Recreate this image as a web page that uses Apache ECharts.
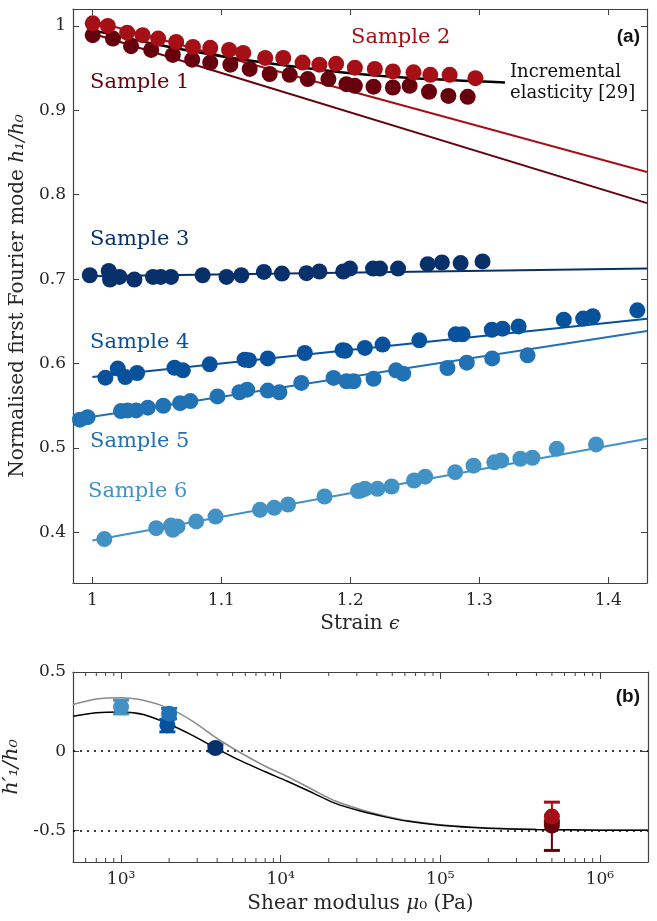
<!DOCTYPE html>
<html>
<head>
<meta charset="utf-8">
<script src="https://cdn.jsdelivr.net/npm/echarts@6/dist/echarts.min.js"></script>
<style>
html, body { margin: 0; padding: 0; background: #fff; }
#main { width: 657px; height: 921px; }
</style>
</head>
<body>
<div id="main"></div>
<script>
// ---- panel (a): strain vs normalised first Fourier mode ----
var s1x = [1.0003, 1.016, 1.030, 1.0456, 1.0624, 1.0774, 1.0914, 1.107, 1.122, 1.1375, 1.153, 1.167, 1.183, 1.197, 1.2035, 1.218, 1.233, 1.246, 1.261, 1.276, 1.291];
var s1y = [0.989, 0.985, 0.976, 0.9715, 0.9656, 0.960, 0.9565, 0.954, 0.949, 0.943, 0.942, 0.937, 0.937, 0.931, 0.929, 0.928, 0.927, 0.929, 0.922, 0.917, 0.916];
var s2x = [1.0003, 1.012, 1.027, 1.039, 1.051, 1.065, 1.078, 1.0914, 1.106, 1.117, 1.134, 1.148, 1.163, 1.176, 1.189, 1.2035, 1.219, 1.233, 1.249, 1.262, 1.277, 1.297];
var s2y = [1.003, 1.0, 0.992, 0.989, 0.985, 0.981, 0.975, 0.974, 0.9715, 0.968, 0.962, 0.962, 0.9565, 0.954, 0.955, 0.9505, 0.949, 0.946, 0.945, 0.942, 0.942, 0.938];
var s3x = [0.998, 1.0127, 1.0137, 1.021, 1.0326, 1.047, 1.053, 1.061, 1.0855, 1.104, 1.1155, 1.133, 1.147, 1.166, 1.176, 1.1945, 1.1997, 1.2176, 1.223, 1.237, 1.26, 1.271, 1.2855, 1.3025];
var s3y = [0.7046, 0.7097, 0.6995, 0.7026, 0.6995, 0.7026, 0.7026, 0.7026, 0.7046, 0.7026, 0.7046, 0.7085, 0.7066, 0.707, 0.709, 0.709, 0.7125, 0.7125, 0.7125, 0.7125, 0.7177, 0.7197, 0.719, 0.721];
var s4x = [1.0101, 1.0197, 1.0256, 1.0347, 1.0637, 1.0702, 1.091, 1.118, 1.1214, 1.136, 1.1647, 1.194, 1.196, 1.2113, 1.225, 1.2535, 1.2817, 1.287, 1.3097, 1.318, 1.3305, 1.3655, 1.3805, 1.388, 1.4225];
var s4y = [0.5833, 0.594, 0.584, 0.5888, 0.595, 0.592, 0.599, 0.6046, 0.604, 0.606, 0.6125, 0.6157, 0.615, 0.6185, 0.6224, 0.6275, 0.6346, 0.6346, 0.640, 0.6413, 0.644, 0.652, 0.6533, 0.656, 0.663];
var s5x = [0.9904, 0.9963, 1.0222, 1.0274, 1.0339, 1.043, 1.055, 1.068, 1.076, 1.097, 1.114, 1.12, 1.136, 1.145, 1.162, 1.187, 1.197, 1.2025, 1.218, 1.2354, 1.241, 1.2753, 1.2903, 1.31, 1.3374];
var s5y = [0.5335, 0.5365, 0.5437, 0.5445, 0.5445, 0.5477, 0.550, 0.553, 0.5555, 0.561, 0.566, 0.569, 0.568, 0.566, 0.577, 0.583, 0.579, 0.579, 0.582, 0.592, 0.588, 0.5947, 0.601, 0.606, 0.6097];
var s6x = [1.0093, 1.0495, 1.061, 1.0624, 1.066, 1.0805, 1.0955, 1.13, 1.141, 1.1517, 1.18, 1.206, 1.208, 1.2113, 1.221, 1.232, 1.2494, 1.258, 1.2813, 1.2955, 1.3116, 1.317, 1.3318, 1.3412, 1.36, 1.3905];
var s6y = [0.392, 0.405, 0.408, 0.403, 0.407, 0.413, 0.4187, 0.4267, 0.429, 0.433, 0.4425, 0.449, 0.4496, 0.4516, 0.4516, 0.4543, 0.4614, 0.466, 0.4713, 0.479, 0.483, 0.485, 0.4872, 0.4884, 0.499, 0.5042];

// fitted lines (end points)
var fit1x = [1.0, 1.43], fit1y = [0.991, 0.790];
var fit2x = [1.0, 1.43], fit2y = [1.006, 0.827];
var fit3x = [0.997, 1.43], fit3y = [0.7035, 0.7125];
var fit4x = [1.0, 1.43], fit4y = [0.584, 0.653];
var fit5x = [0.99, 1.43], fit5y = [0.5346, 0.6385];
var fit6x = [1.0, 1.43], fit6y = [0.3903, 0.511];
// incremental elasticity curve
var incX = [1.0, 1.05, 1.1, 1.15, 1.2, 1.25, 1.32];
var incY = [0.995, 0.978, 0.964, 0.953, 0.944, 0.938, 0.933];

// ---- panel (b): shear modulus vs slope ----
var bMu = [5.0e5, 5.0e5, 3900, 1950, 2000, 1000];
var bVal = [-0.47, -0.413, 0.02, 0.164, 0.237, 0.279];
var bLow = [-0.627, -0.45, 0.0, 0.122, 0.205, 0.235];
var bHigh = [-0.44, -0.322, 0.04, 0.2, 0.27, 0.322];
var curveMu = [500, 700, 1000, 1400, 2000, 2800, 4000, 5600, 8000, 11000, 16000, 22000, 32000, 45000, 63000, 100000, 160000, 250000, 400000, 630000, 1000000, 2000000];
var blackV = [0.22, 0.242, 0.247, 0.23, 0.17, 0.1, 0.015, -0.06, -0.13, -0.19, -0.265, -0.33, -0.38, -0.415, -0.443, -0.468, -0.482, -0.49, -0.495, -0.497, -0.499, -0.5];
var greyV = [0.295, 0.33, 0.338, 0.32, 0.27, 0.19, 0.08, -0.01, -0.095, -0.16, -0.245, -0.315, -0.37, -0.41, -0.44, -0.465, -0.48, -0.489, -0.494, -0.497, -0.499, -0.5];

var colors = ['#67000d', '#a50f15', '#08306b', '#08519c', '#2171b5', '#4292c6'];
var names = ['Sample 1', 'Sample 2', 'Sample 3', 'Sample 4', 'Sample 5', 'Sample 6'];

var SERIF = 'DejaVu Serif, serif';
var AX = '#404040';
var TXT = '#262626';

var zip = function (xs, ys) { return xs.map(function (x, i) { return [x, ys[i]]; }); };

var myChart = echarts.init(document.getElementById('main'));

var ptsX = [s1x, s2x, s3x, s4x, s5x, s6x];
var ptsY = [s1y, s2y, s3y, s4y, s5y, s6y];
var fitX = [fit1x, fit2x, fit3x, fit4x, fit5x, fit6x];
var fitY = [fit1y, fit2y, fit3y, fit4y, fit5y, fit6y];

var series = [];

// fit lines of panel (a)
for (var i = 0; i < 6; i++) {
    series.push({
        type: 'line', xAxisIndex: 0, yAxisIndex: 0,
        data: zip(fitX[i], fitY[i]), showSymbol: false, silent: true,
        lineStyle: { color: colors[i], width: 2 }, z: 2
    });
}
series.push({
    type: 'line', xAxisIndex: 0, yAxisIndex: 0,
    data: zip(incX, incY), smooth: 0.3, showSymbol: false,
    lineStyle: { color: '#000', width: 2.5 }, z: 2
});
// points of panel (a)
for (var i = 0; i < 6; i++) {
    series.push({
        type: 'scatter', xAxisIndex: 0, yAxisIndex: 0,
        data: zip(ptsX[i], ptsY[i]), symbolSize: 16,
        itemStyle: { color: colors[i], opacity: 1 }, z: 3
    });
}

// panel (b) curves
series.push({
    type: 'line', xAxisIndex: 2, yAxisIndex: 2,
    data: zip(curveMu, greyV), smooth: 0.3, showSymbol: false,
    lineStyle: { color: '#8a8a8a', width: 1.5 }, z: 2,
    markLine: {
        silent: true, symbol: 'none', label: { show: false },
        lineStyle: { color: '#000', type: [2, 5], width: 1.5 },
        data: [{ yAxis: 0 }, { yAxis: -0.5 }]
    }
});
series.push({
    type: 'line', xAxisIndex: 2, yAxisIndex: 2,
    data: zip(curveMu, blackV), smooth: 0.3, showSymbol: false,
    lineStyle: { color: '#000', width: 1.5 }, z: 2
});

// error bars
series.push({
    type: 'custom', xAxisIndex: 2, yAxisIndex: 2, z: 4,
    data: bMu.map(function (m, i) { return [m, bLow[i], bHigh[i], i]; }),
    renderItem: function (params, api) {
        var lo = api.coord([api.value(0), api.value(1)]);
        var hi = api.coord([api.value(0), api.value(2)]);
        var c = colors[api.value(3)];
        var w = 8;
        return {
            type: 'group',
            children: [
                { type: 'line', shape: { x1: lo[0], y1: lo[1], x2: hi[0], y2: hi[1] }, style: { stroke: c, lineWidth: 2 } },
                { type: 'line', shape: { x1: lo[0] - w, y1: lo[1], x2: lo[0] + w, y2: lo[1] }, style: { stroke: c, lineWidth: 3 } },
                { type: 'line', shape: { x1: hi[0] - w, y1: hi[1], x2: hi[0] + w, y2: hi[1] }, style: { stroke: c, lineWidth: 3 } }
            ]
        };
    }
});
for (var i = 0; i < 6; i++) {
    series.push({
        type: 'scatter', xAxisIndex: 2, yAxisIndex: 2,
        data: [[bMu[i], bVal[i]]], symbolSize: 16,
        itemStyle: { color: colors[i], opacity: 1 }, z: 5
    });
}

// minor ticks for the log axis (2..9 x 10^k)
var minor = [];
for (var k = 2; k <= 6; k++) {
    for (var m = 2; m <= 9; m++) {
        var v = m * Math.pow(10, k);
        if (v > 500 && v < 2e6) minor.push([v, 0]);
    }
}
series.push({
    type: 'custom', xAxisIndex: 2, yAxisIndex: 2, z: 6, silent: true,
    data: minor,
    renderItem: function (params, api) {
        var b = api.coord([api.value(0), -0.7]);
        var t = api.coord([api.value(0), 0.5]);
        var st = { stroke: AX, lineWidth: 1 };
        return {
            type: 'group',
            children: [
                { type: 'line', shape: { x1: b[0], y1: b[1], x2: b[0], y2: b[1] - 4 }, style: st },
                { type: 'line', shape: { x1: t[0], y1: t[1], x2: t[0], y2: t[1] + 4 }, style: st }
            ]
        };
    }
});

var sup = { 3: '10³', 4: '10⁴', 5: '10⁵', 6: '10⁶' };

var baseAxis = function (extra) {
    return Object.assign({
        axisLine: { show: true, onZero: false, lineStyle: { color: AX, width: 1.2 } },
        axisTick: { show: true, inside: true, length: 6, lineStyle: { color: AX } },
        axisLabel: { show: false },
        splitLine: { show: false }
    }, extra);
};

var tenths = function (v) { return Math.abs(v * 10 - Math.round(v * 10)) < 1e-6 ? String(Math.round(v * 10) / 10) : ''; };

var option = {
    animation: false,
    backgroundColor: '#fff',
    grid: [
        { left: 73, right: 10, top: 9, bottom: 338, outerBoundsMode: 'none' },
        { left: 73, right: 9, top: 672, bottom: 59, outerBoundsMode: 'none' }
    ],
    xAxis: [
        baseAxis({
            type: 'value', gridIndex: 0, min: 0.985, max: 1.43, splitNumber: 5,
            name: '{t|Strain }{i|ϵ}', nameLocation: 'middle', nameGap: 26,
            nameTextStyle: { rich: { t: { fontFamily: SERIF, fontSize: 20, color: TXT }, i: { fontFamily: SERIF, fontStyle: 'italic', fontSize: 19, color: TXT } } },
            axisLabel: {
                show: true, showMinLabel: false, showMaxLabel: false, margin: 9,
                fontFamily: SERIF, fontSize: 17, color: TXT, formatter: tenths
            }
        }),
        baseAxis({ type: 'value', gridIndex: 0, min: 0.985, max: 1.43, splitNumber: 5, position: 'top' }),
        baseAxis({
            type: 'log', logBase: 10, gridIndex: 1, min: 500, max: 2e6,
            name: '{t|Shear modulus }{i|μ}{t|₀ (Pa)}', nameLocation: 'middle', nameGap: 32,
            nameTextStyle: { rich: { t: { fontFamily: SERIF, fontSize: 20, color: TXT }, i: { fontFamily: SERIF, fontStyle: 'italic', fontSize: 20, color: TXT } } },
            axisTick: { show: true, inside: true, length: 7, lineStyle: { color: AX } },
            axisLabel: {
                show: true, showMinLabel: false, showMaxLabel: false, margin: 9,
                fontFamily: SERIF, fontSize: 17, color: TXT,
                formatter: function (v) { var e = Math.round(Math.log10(v)); return Math.abs(Math.log10(v) - e) < 1e-6 ? (sup[e] || '') : ''; }
            }
        }),
        baseAxis({ type: 'log', logBase: 10, gridIndex: 1, min: 500, max: 2e6, position: 'top',
            axisTick: { show: true, inside: true, length: 7, lineStyle: { color: AX } } })
    ],
    yAxis: [
        baseAxis({
            type: 'value', gridIndex: 0, min: 0.34, max: 1.02, splitNumber: 7,
            name: '{t|Normalised first Fourier mode }{i|h₁/h₀}', nameLocation: 'middle', nameGap: 43,
            nameTextStyle: { rich: { t: { fontFamily: SERIF, fontSize: 20, color: TXT }, i: { fontFamily: SERIF, fontStyle: 'italic', fontSize: 20, color: TXT } } },
            axisLabel: {
                show: true, showMinLabel: false, showMaxLabel: false, margin: 7,
                fontFamily: SERIF, fontSize: 17, color: TXT, formatter: tenths
            }
        }),
        baseAxis({ type: 'value', gridIndex: 0, min: 0.34, max: 1.02, splitNumber: 7, position: 'right' }),
        baseAxis({
            type: 'value', gridIndex: 1, min: -0.7, max: 0.5, splitNumber: 2,
            name: '{i|h′₁/h₀}', nameLocation: 'middle', nameGap: 42,
            nameTextStyle: { rich: { i: { fontFamily: SERIF, fontStyle: 'italic', fontSize: 21, color: TXT } } },
            axisLabel: {
                show: true, showMinLabel: false, margin: 7,
                fontFamily: SERIF, fontSize: 17, color: TXT,
                formatter: function (v) { return Math.abs(v * 2 - Math.round(v * 2)) < 1e-6 ? String(Math.round(v * 2) / 2) : ''; }
            }
        }),
        baseAxis({ type: 'value', gridIndex: 1, min: -0.7, max: 0.5, splitNumber: 2, position: 'right' })
    ],
    graphic: [
        { type: 'text', left: 351, top: 27, style: { text: names[1], font: '21px ' + SERIF, fill: colors[1] } },
        { type: 'text', left: 90, top: 72, style: { text: names[0], font: '21px ' + SERIF, fill: colors[0] } },
        { type: 'text', left: 90, top: 229, style: { text: names[2], font: '21px ' + SERIF, fill: colors[2] } },
        { type: 'text', left: 90, top: 332, style: { text: names[3], font: '21px ' + SERIF, fill: colors[3] } },
        { type: 'text', left: 90, top: 431, style: { text: names[4], font: '21px ' + SERIF, fill: colors[4] } },
        { type: 'text', left: 88, top: 481, style: { text: names[5], font: '21px ' + SERIF, fill: colors[5] } },
        { type: 'text', left: 510, top: 62, style: { text: 'Incremental\nelasticity [29]', font: '18px ' + SERIF, fill: '#111', lineHeight: 21 } },
        { type: 'text', right: 17, top: 27, style: { text: '(a)', font: 'bold 19px Liberation Sans, Arial, sans-serif', fill: '#111' } },
        { type: 'text', right: 17, top: 687, style: { text: '(b)', font: 'bold 19px Liberation Sans, Arial, sans-serif', fill: '#111' } }
    ],
    series: series
};

myChart.setOption(option);
</script>
</body>
</html>
